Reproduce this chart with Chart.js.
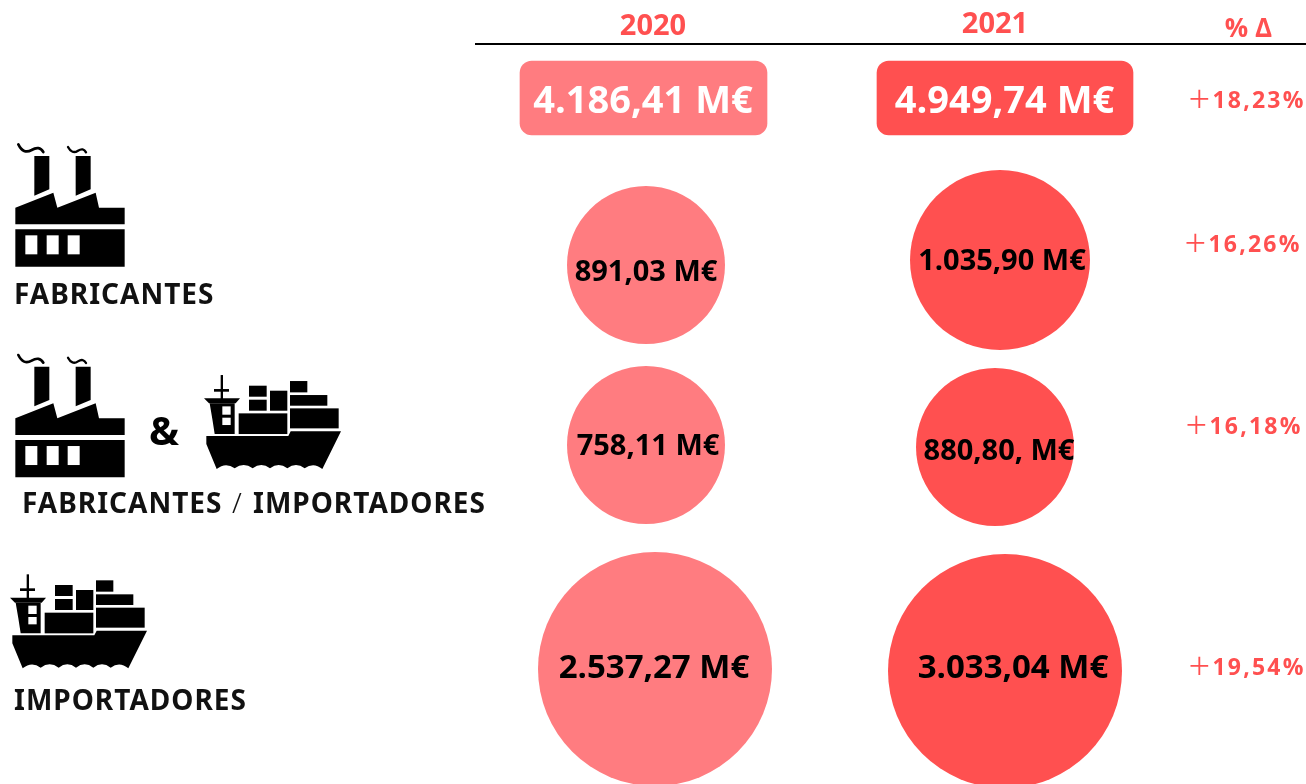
<!DOCTYPE html>
<html>
<head>
<meta charset="utf-8">
<style>
  html, body { margin: 0; padding: 0; background: #fff; overflow: hidden; }
  canvas { display: block; }
</style>
<script src="https://cdn.jsdelivr.net/npm/chart.js@4/dist/chart.umd.min.js"></script>
</head>
<body>
<canvas id="chart" width="1306" height="784"></canvas>
<script>
// data
const years = ['2020', '2021'];
const deltaHeader = '% Δ';
const categories = ['FABRICANTES', 'FABRICANTES / IMPORTADORES', 'IMPORTADORES'];
const total2020 = 4186.41;
const total2021 = 4949.74;
const values2020 = [891.03, 758.11, 2537.27];
const values2021 = [1035.90, 880.80, 3033.04];
const deltas = [18.23, 16.26, 16.18, 19.54];

// layout, scale units: column 0/1 = years, row 0 = totals
const colPos = [0, 1];
const deltaCol = 1.71;
const rowPos = [0, 1, 2.122, 3.488];
const pxPerCol = 350;
const pxPerRow = 164;
const radii2020 = [79, 79, 117];
const radii2021 = [90, 79, 117];
const nudgeX2020 = [-4, -4, 5];
const nudgeX2021 = [0, -5, 5];
const nudgeY2020 = [3, -1, -1];
const nudgeY2021 = [-2, 1, 1];

const pale = '#FF7C80';
const strong = '#FF5050';

const fmt = v => v.toLocaleString('de-DE', { minimumFractionDigits: 2, maximumFractionDigits: 2 }) + ' M€';

function bubblePoints(values, radii, col, nx, ny) {
  return values.map((v, i) => ({
    x: colPos[col] + nx[i] / pxPerCol,
    y: rowPos[i + 1] + ny[i] / pxPerRow,
    r: radii[i],
    v: v
  }));
}

function factory(ctx, dx, dy) {
  // traced at 3x, so everything goes through scale(1/3)
  ctx.save();
  ctx.translate(dx, dy);
  ctx.scale(1 / 3, 1 / 3);
  ctx.fillStyle = '#000';
  const poly = pts => {
    ctx.beginPath();
    pts.forEach((p, i) => i ? ctx.lineTo(p[0], p[1]) : ctx.moveTo(p[0], p[1]));
    ctx.closePath();
    ctx.fill();
  };
  poly([[46, 298], [374, 298], [374, 410], [46, 410]]);
  poly([[46, 233], [160, 188], [172, 233], [287, 188], [297, 233], [374, 233], [374, 283], [46, 283]]);
  poly([[103, 78], [148, 78], [148, 178], [103, 197]]);
  poly([[227, 78], [272, 78], [272, 178], [227, 197]]);
  ctx.fillStyle = '#fff';
  [76, 140, 203].forEach(x => ctx.fillRect(x, 316, 36, 57));
  ctx.strokeStyle = '#000';
  ctx.lineCap = 'round';
  ctx.lineWidth = 8;
  ctx.beginPath();
  ctx.moveTo(55, 43);
  ctx.quadraticCurveTo(70, 74, 95, 60);
  ctx.quadraticCurveTo(118, 46, 130, 66);
  ctx.stroke();
  ctx.lineWidth = 7;
  ctx.beginPath();
  ctx.moveTo(204, 51);
  ctx.quadraticCurveTo(216, 74, 234, 62);
  ctx.quadraticCurveTo(250, 52, 258, 67);
  ctx.stroke();
  ctx.restore();
}

function ship(ctx, dx, dy) {
  ctx.save();
  ctx.translate(dx, dy);
  ctx.scale(1 / 3, 1 / 3);
  ctx.fillStyle = '#000';
  const poly = pts => {
    ctx.beginPath();
    pts.forEach((p, i) => i ? ctx.lineTo(p[0], p[1]) : ctx.moveTo(p[0], p[1]));
    ctx.closePath();
    ctx.fill();
  };
  // hull with the wavy waterline
  ctx.beginPath();
  ctx.moveTo(37, 211);
  ctx.lineTo(283, 211);
  ctx.lineTo(290, 197);
  ctx.lineTo(441, 197);
  ctx.lineTo(385, 310);
  [[332, 308], [280, 308], [228, 308], [176, 308], [122, 308], [68, 310]].forEach((p, i, a) => {
    const prev = i ? a[i - 1][0] : 385;
    ctx.quadraticCurveTo((prev + p[0]) / 2, 288, p[0], p[1]);
  });
  ctx.lineTo(37, 235);
  ctx.closePath();
  ctx.fill();
  // bridge and mast
  poly([[30, 98], [138, 98], [125, 113], [45, 113]]);
  poly([[47, 113], [122, 113], [122, 205], [62, 205], [55, 160]]);
  ctx.fillRect(80, 28, 7, 72);
  ctx.fillRect(60, 70, 45, 8);
  ctx.fillStyle = '#fff';
  ctx.fillRect(85, 122, 25, 25);
  ctx.fillRect(85, 156, 25, 22);
  // containers
  ctx.fillStyle = '#000';
  ctx.fillRect(134, 143, 146, 62);
  ctx.fillRect(288, 128, 146, 60);
  ctx.fillRect(165, 102, 53, 33);
  ctx.fillRect(165, 60, 53, 33);
  ctx.fillRect(228, 75, 52, 60);
  ctx.fillRect(288, 88, 112, 32);
  ctx.fillRect(288, 46, 52, 34);
  ctx.restore();
}

const textPlugin = {
  id: 'textPlugin',
  afterDatasetsDraw(chart) {
    const ctx = chart.ctx;
    const sx = chart.scales.x;
    const sy = chart.scales.y;
    const put = (txt, x, y, font, color, spacing) => {
      ctx.font = font;
      ctx.fillStyle = color;
      ctx.letterSpacing = spacing || '0px';
      ctx.fillText(txt, x, y);
      ctx.letterSpacing = '0px';
    };
    ctx.save();
    ctx.textBaseline = 'middle';
    ctx.textAlign = 'center';

    // header
    put(years[0], sx.getPixelForValue(colPos[0]) + 3, 27, '700 29px "Open Sans"', strong);
    put(years[1], sx.getPixelForValue(colPos[1]) - 5, 25, '700 29px "Open Sans"', strong);
    put(deltaHeader, sx.getPixelForValue(deltaCol), 30, '700 26px "Open Sans"', strong);

    // totals, on the bars
    [[0, total2020], [1, total2021]].forEach(([ds, v]) => {
      const bar = chart.getDatasetMeta(ds).data[0];
      put(fmt(v), bar.x - 0.5, bar.getCenterPoint().y + 4, '700 38px "Open Sans"', '#fff');
    });

    // bubble labels
    const offs2020 = [[0, 8], [2, 2], [-1, 0]];
    const offs2021 = [[2, 2], [4, 5], [8, -2]];
    const sizes = [29, 29, 33];
    const text2021 = values2021.map(fmt);
    text2021[1] = '880,80, M€';
    chart.getDatasetMeta(2).data.forEach((el, i) => {
      put(fmt(values2020[i]), el.x + offs2020[i][0], el.y + offs2020[i][1], `700 ${sizes[i]}px "Open Sans"`, '#000');
    });
    chart.getDatasetMeta(3).data.forEach((el, i) => {
      put(text2021[i], el.x + offs2021[i][0], el.y + offs2021[i][1], `700 ${sizes[i]}px "Open Sans"`, '#000');
    });

    // percentage column
    const dNudge = [[2, 1], [-2, -19], [-1, -21], [2, -4]];
    deltas.forEach((d, i) => {
      const x = sx.getPixelForValue(deltaCol) + dNudge[i][0];
      const y = sy.getPixelForValue(rowPos[i]) + dNudge[i][1];
      ctx.textAlign = 'left';
      put('+', x - 62, y + 3, '300 38px "Noto Sans"', strong);
      put(d.toFixed(2).replace('.', ',') + '%', x - 38, y + 2, '700 23px "Open Sans"', strong, '2.2px');
      ctx.textAlign = 'center';
    });

    // left column
    ctx.textAlign = 'left';
    const catFont = '700 28px "Noto Sans"';
    const [fab, imp] = categories[1].split(' / ');
    put(categories[0], 14, 296, catFont, '#111', '1px');
    put(fab, 22, 505, catFont, '#111', '1px');
    put('/', 232, 505, '300 28px "Noto Sans"', '#111');
    put(imp, 253, 505, catFont, '#111', '1px');
    put(categories[2], 14, 702, catFont, '#111', '1px');
    put('&', 149, 434, '700 40px "Noto Sans"', '#000');
    ctx.restore();

    factory(ctx, 0, 130);
    factory(ctx, 0, 340.7);
    ship(ctx, 0, 565);
    ship(ctx, 194, 365.7);
  }
};

new Chart(document.getElementById('chart'), {
  type: 'bubble',
  data: {
    datasets: [
      {
        type: 'bar',
        data: [{ x: colPos[0] - 6.5 / pxPerCol, y: [rowPos[0] - 37 / pxPerRow, rowPos[0] + 37 / pxPerRow] }],
        backgroundColor: pale,
        barThickness: 247,
        borderRadius: 12,
        borderSkipped: false,
        grouped: false
      },
      {
        type: 'bar',
        data: [{ x: colPos[1] + 5 / pxPerCol, y: [rowPos[0] - 37 / pxPerRow, rowPos[0] + 37 / pxPerRow] }],
        backgroundColor: strong,
        barThickness: 256,
        borderRadius: 12,
        borderSkipped: false,
        grouped: false
      },
      {
        data: bubblePoints(values2020, radii2020, 0, nudgeX2020, nudgeY2020),
        backgroundColor: pale,
        borderWidth: 0,
        clip: false
      },
      {
        data: bubblePoints(values2021, radii2021, 1, nudgeX2021, nudgeY2021),
        backgroundColor: strong,
        borderWidth: 0,
        clip: false
      }
    ]
  },
  options: {
    responsive: false,
    animation: false,
    events: [],
    layout: { autoPadding: false, padding: { left: 476, top: 44, right: 0, bottom: 0 } },
    plugins: { legend: { display: false }, tooltip: { enabled: false }, title: { display: false } },
    scales: {
      x: {
        type: 'linear',
        position: 'top',
        offset: false,
        min: (476 - 650) / pxPerCol,
        max: (1306 - 650) / pxPerCol,
        ticks: { display: false },
        grid: { display: false, drawTicks: false, tickLength: 0 },
        border: { display: true, color: '#000', width: 2 }
      },
      y: {
        type: 'linear',
        display: false,
        reverse: true,
        min: (44 - 98) / pxPerRow,
        max: (784 - 98) / pxPerRow
      }
    }
  },
  plugins: [textPlugin]
});
</script>
</body>
</html>
